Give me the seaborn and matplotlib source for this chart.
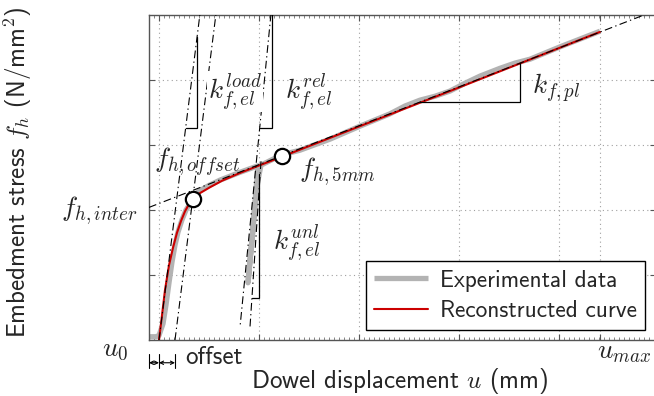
import matplotlib
matplotlib.use("Agg")
import matplotlib.pyplot as plt
import seaborn as sns
import numpy as np
import pandas as pd

# ---------------- data ----------------
# Reconstructed curve (u in mm, f_h in N/mm^2; schematic units)
rec_u = [0.00, 0.03, 0.06, 0.10, 0.14, 0.18, 0.22, 0.26, 0.30, 0.34, 0.41, 0.51,
         0.63, 0.81, 1.01, 1.23, 1.91, 2.91, 4.41]
rec_f = [0.00, 0.38, 0.77, 1.15, 1.42, 1.65, 1.83, 1.98, 2.09, 2.17, 2.26, 2.35,
         2.45, 2.57, 2.69, 2.82, 3.23, 3.83, 4.74]

# Experimental data (loading, unloading, reloading, plastic branch)
exp_u = [-0.10, -0.03, 0.00, 0.04, 0.07, 0.10, 0.13, 0.16, 0.19, 0.23, 0.27, 0.32,
         0.39, 0.49, 0.61, 0.81, 0.99,
         0.97, 0.94, 0.91, 0.89,
         0.92, 0.95, 0.98, 1.02,
         1.23, 1.41, 1.71, 2.01, 2.31, 2.46, 2.61, 2.76, 2.91, 3.06, 3.21, 3.41,
         3.56, 3.71, 4.01, 4.26, 4.41]
exp_f = [0.05, 0.05, 0.07, 0.25, 0.54, 0.88, 1.20, 1.46, 1.66, 1.85, 2.00, 2.12,
         2.28, 2.37, 2.46, 2.58, 2.68,
         2.31, 1.69, 1.23, 0.88,
         1.38, 1.92, 2.38, 2.69,
         2.85, 2.92, 3.09, 3.29, 3.48, 3.60, 3.69, 3.75, 3.83, 3.95, 4.06, 4.18,
         4.26, 4.32, 4.51, 4.66, 4.75]

# Construction lines (dash-dotted)
load1_u, load1_f = [0.00, 0.41], [0.00, 5.02]
load2_u, load2_f = [0.16, 0.57], [0.00, 5.02]
rel_u, rel_f = [1.12, 0.81], [5.02, 0.20]
unl_u, unl_f = [1.02, 0.91], [2.75, 0.20]
pl_u, pl_f = [-0.10, 5.00], [2.04, 5.09]

# Slope triangles
tri_load_u, tri_load_f = [0.27, 0.38, 0.38], [3.26, 3.26, 4.66]
tri_rel_u, tri_rel_f = [1.01, 1.13, 1.13], [3.26, 3.26, 5.20]
tri_unl_u, tri_unl_f = [0.93, 1.00, 1.00], [0.65, 0.65, 2.55]
tri_pl_u, tri_pl_f = [2.61, 3.61, 3.61], [3.66, 3.66, 4.26]

# Characteristic points
pts_u = [0.34, 1.23]
pts_f = [2.17, 2.83]

u0, offset, u_max = 0.0, 0.16, 4.41
xgrid = [0, 1, 2, 3, 4, u_max]
ygrid = [1, 2, 3, 4]

# ---------------- style ----------------
sns.set_theme(style="white")
plt.rcParams['font.family'] = ['cmss10', 'DejaVu Sans']
plt.rcParams['mathtext.fontset'] = 'cm'
plt.rcParams['axes.unicode_minus'] = False
plt.rcParams['axes.formatter.use_mathtext'] = True

fig = plt.figure(figsize=(6.54, 3.96), dpi=100)
ax = fig.add_axes([149/654, 56/396, 507/654, 325/396])
ax.set_xlim(-0.10, 4.97)
ax.set_ylim(0, 5.0)

DASHDOT = (0, (7, 3, 1.2, 3))

# grid
ax.set_xticks(xgrid)
ax.set_yticks(ygrid)
ax.set_xticklabels([])
ax.set_yticklabels([])
ax.set_xticks(np.arange(-0.10, 4.97, 0.05), minor=True)
ax.grid(True, which='major', linestyle=(0, (1, 3)), color='#a0a0a0', lw=0.8)
ax.tick_params(which='major', direction='in', length=4.5, width=0.8, color='#555555',
               top=True, right=True, bottom=True, left=True)
ax.tick_params(axis='x', which='minor', direction='in', length=2.2, width=0.5,
               color='#555555', top=True, bottom=True)
for s in ax.spines.values():
    s.set_color('#555555')
    s.set_linewidth(1.0)

# curves
exp_df = pd.DataFrame({'u': exp_u, 'f': exp_f})
rec_df = pd.DataFrame({'u': rec_u, 'f': rec_f})
sns.lineplot(data=exp_df, x='u', y='f', sort=False, estimator=None, ax=ax,
             color='#b3b3b3', lw=3.8, label='Experimental data', zorder=2,
             solid_capstyle='butt')
sns.lineplot(data=rec_df, x='u', y='f', sort=False, estimator=None, ax=ax,
             color='#cc0000', lw=1.5, label='Reconstructed curve', zorder=3)

# construction lines
for lu, lf in [(load1_u, load1_f), (load2_u, load2_f), (rel_u, rel_f),
               (unl_u, unl_f), (pl_u, pl_f)]:
    ax.plot(lu, lf, color='black', lw=0.8, linestyle=DASHDOT, zorder=4)

for tu, tf in [(tri_load_u, tri_load_f), (tri_rel_u, tri_rel_f),
               (tri_unl_u, tri_unl_f), (tri_pl_u, tri_pl_f)]:
    ax.plot(tu, tf, color='black', lw=0.9, zorder=4, solid_joinstyle='miter')

ax.plot(pts_u, pts_f, linestyle='none', marker='o', ms=11, mfc='white',
        mec='black', mew=1.6, zorder=6)

# annotations
MS = 19.5
ax.text(0.76, 3.82, r'$k_{f,el}^{load}$', fontsize=MS, ha='center', va='center',
        zorder=5, bbox=dict(fc='white', ec='none', pad=0.5))
ax.text(1.50, 3.82, r'$k_{f,el}^{rel}$', fontsize=MS, ha='center', va='center', zorder=5)
ax.text(1.38, 1.49, r'$k_{f,el}^{unl}$', fontsize=MS, ha='center', va='center', zorder=5)
ax.text(3.97, 3.88, r'$k_{f,pl}$', fontsize=MS, ha='center', va='center', zorder=5)
ax.text(0.38, 2.74, r'$f_{h,offset}$', fontsize=MS, ha='center', va='center', zorder=5)
ax.text(1.78, 2.58, r'$f_{h,5mm}$', fontsize=MS, ha='center', va='center', zorder=5)
ax.text(-0.60, 1.98, r'$f_{h,inter}$', fontsize=MS, ha='center', va='center',
        clip_on=False)
ax.text(-0.44, -0.15, r'$u_0$', fontsize=MS, ha='center', va='center', clip_on=False)
ax.text(4.38, -0.19, r'$u_{max}$', fontsize=MS, ha='left', va='center', clip_on=False)

# offset dimension
ya = -0.35
for xv in [-0.10, u0, offset]:
    ax.plot([xv, xv], [-0.22, -0.43], color='black', lw=0.8, clip_on=False)
for x1, x2 in [(-0.10, u0), (u0, offset)]:
    ax.annotate('', xy=(x2, ya), xytext=(x1, ya), xycoords='data',
                arrowprops=dict(arrowstyle='<->', lw=0.8, color='black',
                                shrinkA=0, shrinkB=0, mutation_scale=6),
                annotation_clip=False)
ax.text(0.26, -0.27, 'offset', fontsize=18, ha='left', va='center', clip_on=False)

ax.set_xlabel(r'Dowel displacement $u$ (mm)', fontsize=18, va='center')
ax.xaxis.set_label_coords(0.495, -0.126)
ax.set_ylabel(r'Embedment stress $f_h$ (N/mm$^{\mathsf{2}}$)', fontsize=18, va='center')
ax.yaxis.set_label_coords(-0.258, 0.515)

leg = ax.legend(loc='lower right', bbox_to_anchor=(0.978, 0.031), borderaxespad=0,
                fontsize=16.8, frameon=True, fancybox=False, framealpha=1,
                edgecolor='black', handlelength=2.3, handletextpad=0.5,
                labelspacing=0.35, borderpad=0.35)
leg.get_frame().set_linewidth(1.0)

fig.savefig('out.png', dpi=100)
